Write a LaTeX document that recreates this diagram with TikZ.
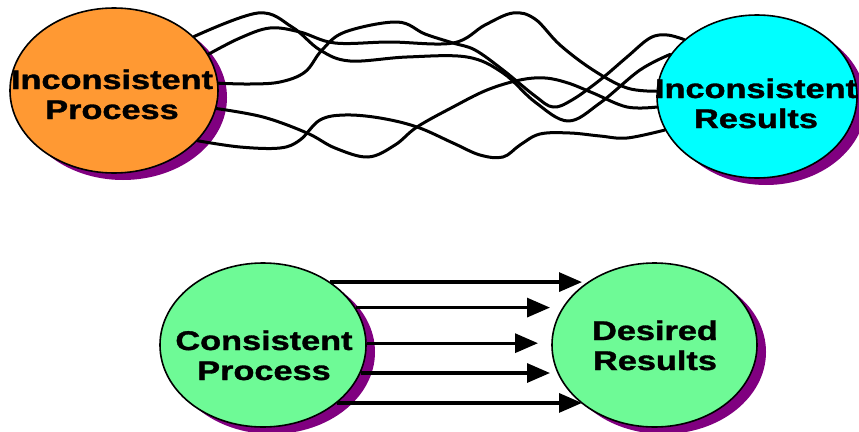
\documentclass[tikz,border=0pt]{standalone}
\usepackage{fontspec}
\newfontfamily\labelfont{Liberation Sans}[BoldFeatures={FakeBold=1.2}]
\usetikzlibrary{shapes.geometric,shadows,arrows.meta}

\definecolor{procorange}{RGB}{255,153,51}
\definecolor{rescyan}{RGB}{0,255,255}
\definecolor{goodgreen}{RGB}{110,250,150}
\definecolor{shadowpurple}{RGB}{128,0,128}

% two centred lines of label text, widened a little
\newcommand{\twoline}[2]{\scalebox{1.27}[1]{\begin{tabular}{@{}c@{}}#1\\#2\end{tabular}}}

\begin{document}
\begin{tikzpicture}[x=1pt,y=-1pt,
  blob/.style={ellipse, draw=black, line width=1.6pt, inner sep=0pt,
    minimum width=206pt, minimum height=164pt,
    drop shadow={shadow xshift=9pt, shadow yshift=-7pt, shadow scale=1,
      fill=shadowpurple, opacity=1}},
  caption/.style={font=\labelfont\bfseries\fontsize{27}{30}\selectfont,
    inner sep=0pt, text=black},
  wave/.style={line width=3pt, line cap=round, line join=round},
  arr/.style={line width=3.2pt, -{Triangle[length=23pt,width=19pt]}}]
\useasboundingbox (0,0) rectangle (859,431);

% ---- upper row: tangled paths ----
\node[blob, fill=procorange, minimum width=208pt, minimum height=165pt] (ip) at (114,90.5) {};
\node[blob, fill=rescyan, minimum width=200pt, minimum height=163pt] (ir) at (757,96.5) {};
\node[caption] (ipt) at (112,98) {\twoline{Inconsistent}{Process}};
\node[caption] (irt) at (756,107) {\twoline{Inconsistent}{Results}};

\draw[wave] plot[smooth, tension=0.6] coordinates {(ip.34) (258,13) (292,27) (320,50)
  (350,61) (407,57) (467,57) (503,73) (535,102) (568,121) (600,103) (640,70) (ir.154)};
\draw[wave] plot[smooth, tension=0.6] coordinates {(ip.21) (240,38) (270,28) (300,32)
  (335,43) (390,42) (453,43) (485,25) (513,13) (535,19) (560,45) (593,70) (627,88) (ir.177)};
\draw[wave] plot[smooth, tension=0.6] coordinates {(ip.4) (250,84) (280,82) (305,72)
  (322,50) (345,32) (397,22) (425,34) (453,43) (475,50) (503,70) (535,96) (553,107)
  (572,100) (600,80) (627,57) (650,38) (667,35) (ir.142.6)};
\draw[wave] plot[smooth, tension=0.6] coordinates {(ip.-10) (263,117) (307,133) (335,148)
  (368,157) (395,145) (417,127) (453,107) (487,90) (520,80) (545,78) (568,83) (593,93)
  (627,107) (ir.186.6)};
\draw[wave] plot[smooth, tension=0.6] coordinates {(ip.-31) (240,147) (280,148) (300,140)
  (320,120) (345,115) (380,118) (417,127) (453,143) (480,155) (503,157) (520,145)
  (540,134) (570,133) (600,136) (627,138) (ir.200.5)};

% ---- lower row: straight arrows ----
\node[blob, fill=goodgreen] (cp) at (263,345) {};
\node[blob, fill=goodgreen, minimum width=205pt] (dr) at (654.5,345) {};
\node[caption] (cpt) at (264,359) {\twoline{Consistent}{Process}};
\node[caption] (drt) at (655,349) {\twoline{Desired}{Results}};

\coordinate (tipouter) at ([xshift=-72.5pt]dr.center);
\coordinate (tipmid) at ([xshift=-104.5pt]dr.center);
\coordinate (tipcentre) at ([xshift=-116.5pt]dr.center);

\draw[arr] (cp.43.7) -- (cp.43.7 -| tipouter);
\draw[arr] (cp.22.6) -- (cp.22.6 -| tipmid);
\draw[arr] (cp.1.1) -- (cp.1.1 -| tipcentre);
\draw[arr] (cp.-16.8) -- (cp.-16.8 -| tipmid);
\draw[arr] (cp.-38.5) -- (cp.-38.5 -| tipouter);
\end{tikzpicture}
\end{document}
